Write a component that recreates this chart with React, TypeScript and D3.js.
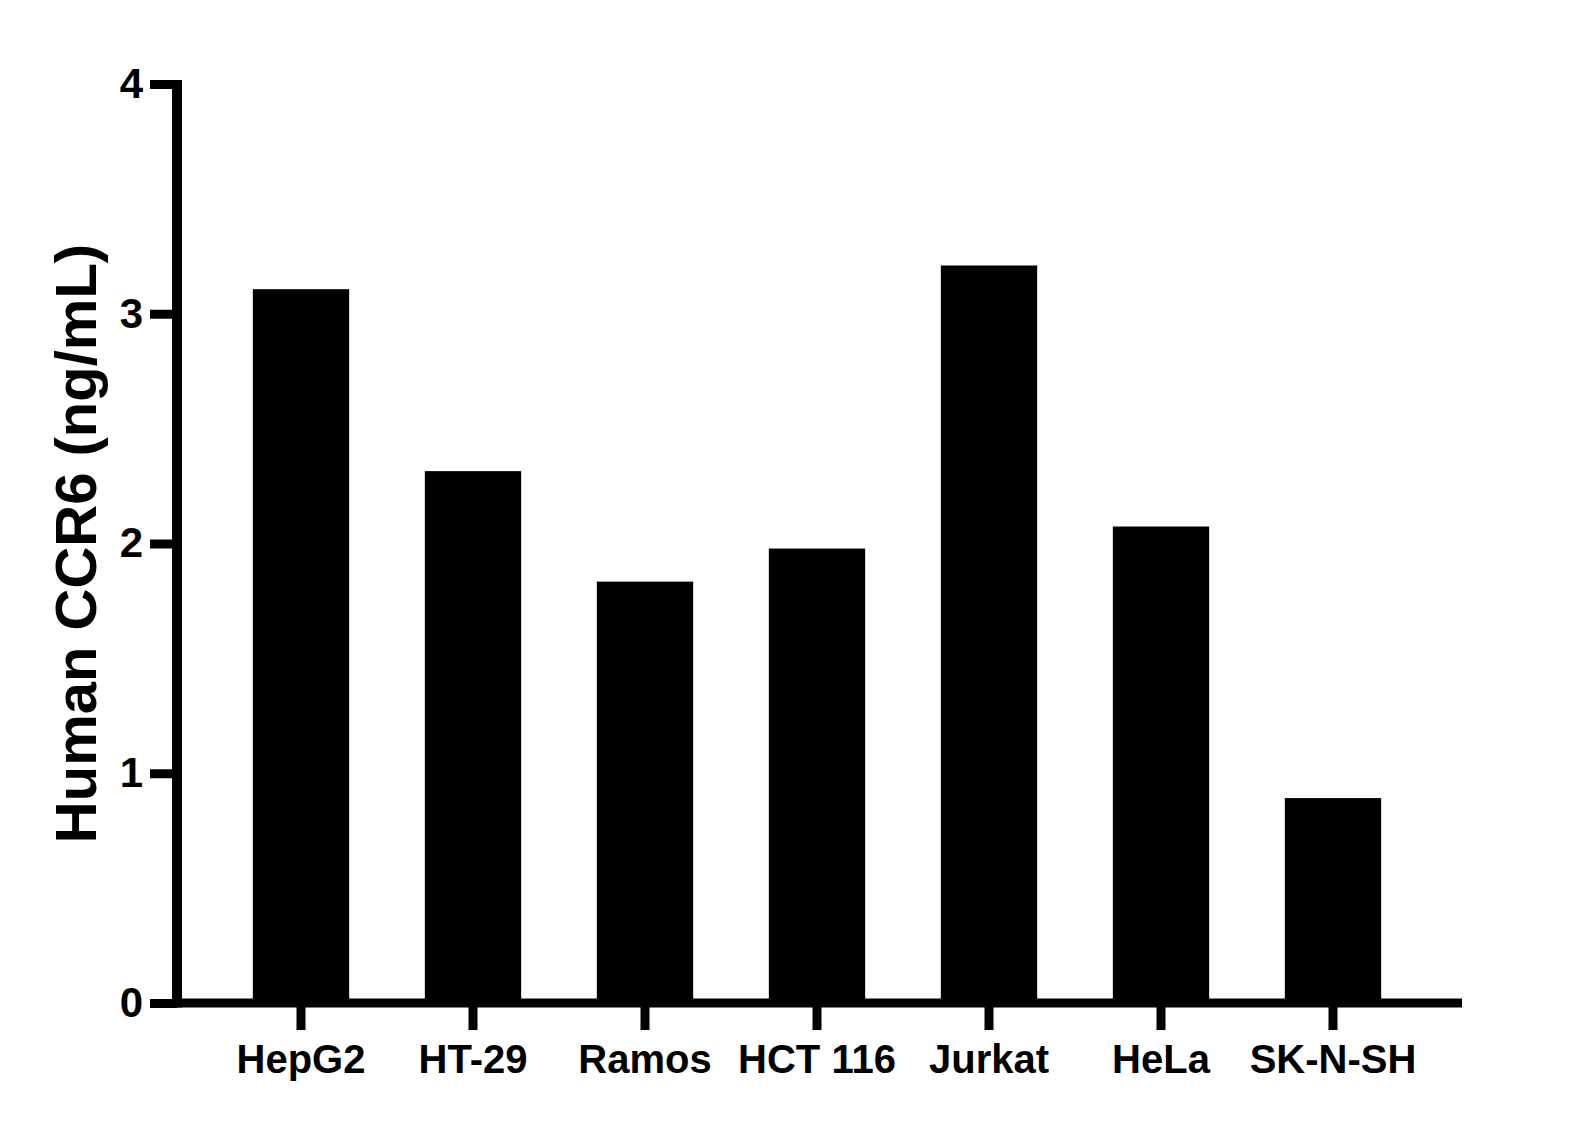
import React, { useEffect, useRef } from "react";
import * as d3 from "d3";

const cellLines = ["HepG2", "HT-29", "Ramos", "HCT 116", "Jurkat", "HeLa", "SK-N-SH"];
const ccr6Values = [3.107, 2.315, 1.834, 1.978, 3.21, 2.074, 0.892];
const yTickValues = [0, 1, 2, 3, 4];
const yTitle = "Human CCR6 (ng/mL)";

const FONT = "'Liberation Sans', Arial, Helvetica, sans-serif";

const App: React.FC = () => {
  const svgRef = useRef<SVGSVGElement | null>(null);

  useEffect(() => {
    if (!svgRef.current) return;
    const svg = d3.select(svgRef.current);
    svg.selectAll("*").remove();

    const axisX = 177; // y axis line position
    const y = d3.scaleLinear().domain([0, 4]).range([1003, 84]);
    const x = d3
      .scaleBand<string>()
      .domain(cellLines)
      .range([215, 1419])
      .paddingInner(0.44)
      .paddingOuter(0.22);

    // bars
    svg
      .append("g")
      .selectAll("rect")
      .data(ccr6Values)
      .join("rect")
      .attr("x", (_, i) => x(cellLines[i]) as number)
      .attr("y", (d) => y(d))
      .attr("width", x.bandwidth())
      .attr("height", (d) => y(0) - y(d))
      .attr("fill", "#000");

    // y axis
    const yAxis = d3
      .axisLeft(y)
      .tickValues(yTickValues)
      .tickFormat(d3.format("d"))
      .tickSize(27)
      .tickPadding(7);
    const gy = svg.append("g").attr("transform", `translate(${axisX},0)`).call(yAxis);
    gy.select(".domain").remove();
    gy.selectAll(".tick line").attr("stroke", "#000").attr("stroke-width", 9);
    gy.selectAll(".tick text")
      .attr("fill", "#000")
      .style("font-family", FONT)
      .style("font-weight", "bold")
      .style("font-size", "42px");

    // x axis
    const xAxis = d3.axisBottom(x).tickSize(27).tickPadding(15);
    const gx = svg.append("g").attr("transform", `translate(0,${y(0)})`).call(xAxis);
    gx.select(".domain").remove();
    gx.selectAll(".tick line").attr("stroke", "#000").attr("stroke-width", 9);
    gx.selectAll(".tick text")
      .attr("fill", "#000")
      .style("font-family", FONT)
      .style("font-weight", "bold")
      .style("font-size", "40px");

    // axis lines
    svg
      .append("line")
      .attr("x1", axisX)
      .attr("x2", axisX)
      .attr("y1", y(4) - 4)
      .attr("y2", y(0) + 4.5)
      .attr("stroke", "#000")
      .attr("stroke-width", 10);
    svg
      .append("line")
      .attr("x1", axisX - 5)
      .attr("x2", 1462)
      .attr("y1", y(0))
      .attr("y2", y(0))
      .attr("stroke", "#000")
      .attr("stroke-width", 9);

    // y title
    svg
      .append("text")
      .attr("transform", `translate(96,${(y(0) + y(4)) / 2}) rotate(-90)`)
      .attr("text-anchor", "middle")
      .attr("fill", "#000")
      .style("font-family", FONT)
      .style("font-weight", "bold")
      .style("font-size", "58px")
      .text(yTitle);
  }, []);

  return (
    <svg
      ref={svgRef}
      width={1592}
      height={1125}
      style={{ position: "absolute", left: 0, top: 0, background: "#fff" }}
    />
  );
};

export default App;
